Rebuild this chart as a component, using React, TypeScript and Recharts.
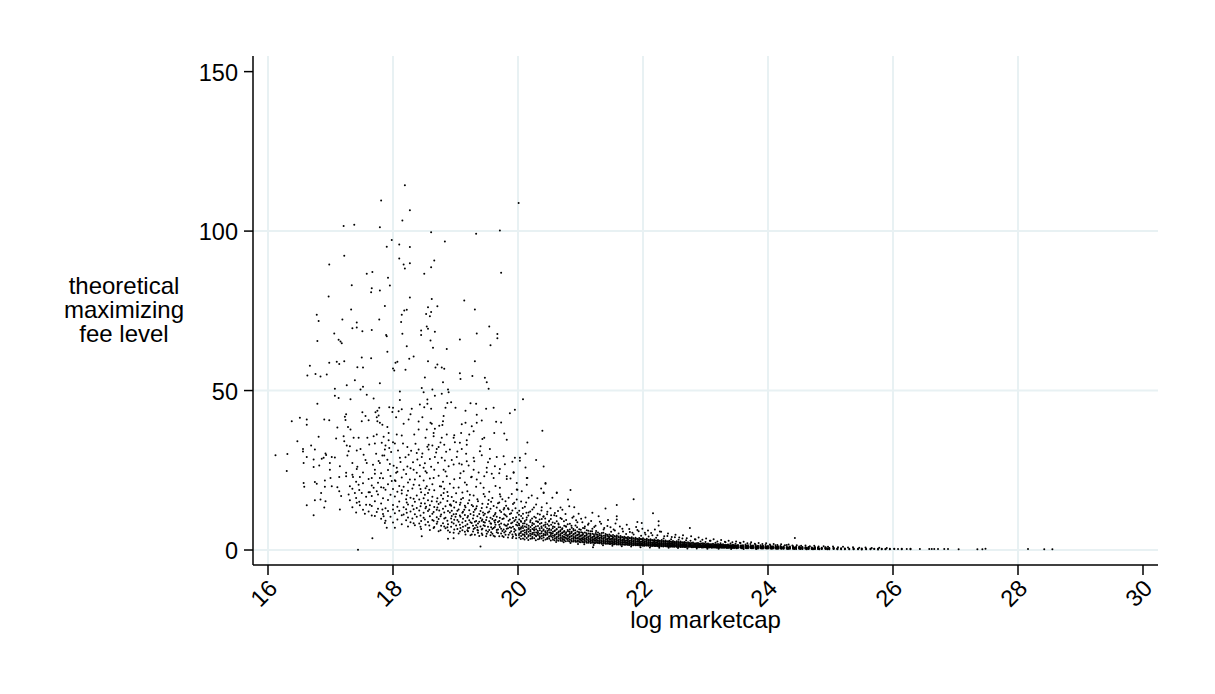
import React from 'react';
import { ScatterChart, Scatter, XAxis, YAxis, CartesianGrid, Label } from 'recharts';

const xTicks = [16, 18, 20, 22, 24, 26, 28, 30];
const yTicks = [0, 50, 100, 150];
const xGridValues = [16, 18, 20, 22, 24, 26, 28];
const yGridValues = [0, 50, 100];
const yTitleLines = ['theoretical', 'maximizing', 'fee level'];
const xTitle = 'log marketcap';

const upperPoints: number[][] = [
[18.19,114.4],[17.81,109.6],[20.01,108.8],[18.27,106.5],[18.15,103.3],[17.21,101.6],[17.38,102],[17.79,101.2],[19.71,100.2],[18.61,99.6],[19.33,99.2],[17.98,97.2],[18.83,96.7],[18.1,95.8],[17.9,95.1],[18.27,95],[17.22,92.3],[18.1,91.4],[16.98,89.5],[18.17,89.5],[18.27,89.9],[18.66,90.8],[18.19,88.3],[18.61,88.7],[18.5,86.6],[19.73,86.9],[17.58,86.6],[17.67,87.2],[17.92,85.4],[17.95,82.9],[17.34,83],[17.66,82.1],[17.65,80.8],[17.79,81.4],[16.97,79.5],[18.27,79.2],[18.62,78.7],[19.14,78.2],[17.87,76.5],[18.56,76.1],[18.71,76.4],[17.33,75.4],[18.18,75.1],[18.22,75.3],[19.31,75.4],[18.61,74.6],[18.53,74],[18.14,73.8],[18.59,73.3],[16.78,73.8],[16.81,71.8],[17.19,72.3],[17.78,72.3],[18.13,71.5],[17.42,71.3],[17.35,69.5],[17.42,69.8],[17.51,68.6],[17.66,69],[17.06,67.9],[17.89,67.4],[17.9,67],[18.15,67.8],[18.45,67.4],[18.45,68.8],[18.54,70.1],[18.56,69.4],[18.67,68.4],[19.54,70.1],[19.34,67.9],[19.67,67.7],[19.67,66.4],[19.07,66],[19.56,64.2],[18.6,65.7],[16.79,65.5],[17.13,65.9],[17.16,65.4],[17.18,64.8],[18.22,63.9],[18.64,63.4],[18.86,63],[17.91,62.2],[17.5,60.4],[17.65,60.1],[18.33,60.7],[18.26,60],[18.07,59],[18.04,58.7],[17.22,59.2],[17.1,59],[16.98,58.7],[17.14,58.3],[16.67,57.8],[18.56,59.2],[18.71,58.2],[19.31,59.2],[17.43,57.3],[17.52,57.2],[18,56.9],[18.68,57.2],[18.78,57.2],[18.82,56.8],
];

const middlePoints: number[][] = [
[16.63,54.7],[16.76,55.2],[16.84,54.4],[16.94,55],[18.02,56.3],[18.2,56.5],[19.07,55.4],[19.08,53.6],[19.27,54.6],[19.47,54],[19.5,52.6],[19.53,50.6],[18.51,54.1],[18.8,52.6],[17.39,53.2],[17.26,51.7],[17.52,51.2],[17.48,50.3],[17.07,50.6],[17.79,52.3],[18.46,50.8],[18.63,50.3],[18.88,50.3],[18.89,49.5],[18.49,49.5],[18.78,49],[18.11,49.7],[18.67,48.4],[18.55,47.2],[17.07,48.4],[17.13,47.7],[17.32,47.3],[17.58,48.7],[17.69,47.5],[18.11,47],[20.08,47.3],[16.79,45.9],[18.55,45.9],[18.87,46.1],[18.93,46.3],[19.24,46],[19.33,45.9],[18.43,45.6],[18.5,44.8],[18.61,44.3],[18.84,44.6],[19,44.6],[19.49,44.3],[19.61,44.6],[19.95,44],[19.87,42.9],[19.16,43.7],[19.34,42.4],[17.78,44.6],[17.75,43.7],[17.94,44.8],[18,44.6],[18.09,43.5],[18.14,44.1],[18.3,44.3],[18.28,42.6],[17.99,43.3],[17.51,43.2],[17.25,42.6],[17.23,41.8],[17.24,40.8],[17.56,42],[17.74,41.6],[17.77,42.2],[17.72,43.2],[17.5,40.4],[17.61,40.7],[16.51,41.5],[16.62,40.9],[16.38,40.4],[16.9,40.9],[16.98,40.7],[16.62,39.3],[18.05,41.6],[18.81,42],[18.41,40.3],[18.47,41.6],[18.25,40.9],[18.17,39.6],[18.8,40.4],[18.6,39.9],[18.62,39.6],[18.74,39],[18.79,39.2],[19.1,39.4],[19.16,39.9],[19.42,40.6],[19.34,39.9],[19.65,40.2],[19.73,40],[17.75,40.4],[17.79,39.9],[17.83,39.3],[17.91,38.6],[17.11,38.4],[17.28,38.6],[17.32,37.8],[18.41,37.8],[18.54,37.8],[18.67,38],[18.65,36.7],[18.86,36.2],[18.98,36],[19.09,36.7],[19.26,38.8],[19.29,37.2],[19.62,36.7],[19.78,36.5],[20.39,37.4],[19.82,34.6],[19.46,35.2],[19.43,34.8],[19.22,36.2],[16.81,35.5],[17.09,35],[17.21,35.7],[17.37,35.2],[17.45,35.2],[17.59,35.2],[17.69,35.7],[17.74,36.2],[17.85,35.5],[17.93,36.7],[18.06,36.2],[18.14,35.9],[18.34,36.2],[18.52,35.2],[18.65,35.7],[18.78,35.2],[18.97,35.2],[19.18,34.4],[16.47,34.1],[17.22,34.1],[17.26,32.8],[17.31,32.5],[17.71,33.4],[17.82,33.6],[17.93,34.4],[18,33.8],[18.03,33.4],[18.23,32.3],[18.57,33],[18.63,32.8],[18.73,32.3],[18.82,33],[18.99,33.8],[19.07,33.6],[19.18,33],[19.4,32.5],[20.15,33.7],[16.69,32.8],[16.56,31.7],[16.56,30.9],[16.75,31.5],[17.29,31],[17.42,31.2],[17.87,31.5],[17.94,32],[18.41,31.5],[18.57,31.5],[18.7,31.7],[18.91,31.5],[19.1,31.7],[19.39,31],[19.55,31.7],[16.12,29.7],[16.31,30.1],[16.92,30.3],[16.93,29.8],[16.62,29.2],[16.73,28.4],[16.86,28.6],[16.89,28.9],[17.02,29.2],[17.07,29],[17.27,29.6],[17.53,29.9],[17.83,29.6],[17.86,29.6],[18.11,28.9],[18.25,29.9],[18.38,30.4],[18.46,29.2],[18.67,29.2],[18.78,28.9],[19.02,29.2],[19.18,27.8],[19.29,28.9],[19.55,28.6],[19.77,29.4],[19.95,28.9],[20.03,28.9],[20.12,30.2],[20.29,28.2],[20.03,28],
[16.3,24.8],[16.57,27.3],[16.73,26],[16.82,26.5],[16.99,27.3],[16.99,25.2],[17.15,26.3],[17.25,24.2],[17.35,27.3],[17.42,25.4],[17.58,27.3],[17.71,25.2],[17.79,27.3],[17.95,27],[18.06,25.8],[18.05,24.2],[18.17,25.2],[18.33,25.2],[18.49,25.8],[18.54,24.2],[18.81,25.2],[18.97,26.8],[19.1,26.8],[19.29,25.2],[19.5,25.8],[19.63,26.3],[19.71,25.4],[20.12,25.9],[20.41,26.2],[19.93,24.2],[20.15,22.6],[19.82,23.1],[20.44,20.8],[16.57,21],[16.58,19.8],[16.75,21.3],[16.78,20.8],[16.91,21.8],[17,22.6],[17.14,22.9],[17.25,23.1],[17.36,22.9],[17.47,22.9],[17.66,22.6],[17.79,22.6],[17.98,21.6],[18.04,21.6],[18.27,22.1],[18.43,23.1],[18.65,22.6],[18.86,23.1],[19.07,22.6],[19.34,22.1],[19.61,22.6],[19.98,21],[20.14,20.5],[17.02,20],[16.91,19.8],[17.11,19.7],[17.31,20],[17.45,20.5],[17.69,19.5],[17.85,19.5],[18.14,18.7],[18.33,20.5],[18.54,20],[18.75,20],[18.97,19.5],[19.18,20.5],[19.45,19.5],[19.71,19.5],[19.98,19],[20.41,17.9],[20.62,17.9],[16.85,17.9],[17.14,18.4],[17.29,17.4],[17.39,17.9],[17.5,17.9],[17.63,18.1],[17.74,18.4],[16.75,15.6],[16.84,15.8],[16.92,15.3],[16.62,14],[16.9,13.3],[16.73,10.9],[17.15,12.7],[17.17,16.9],[17.31,15.6],[17.42,14.8],[17.47,14],[17.63,14.2],[17.66,10.8],[17.55,11.4],[17.74,11.9],[17.83,12.7],[17.85,10.6],[17.87,8.5],[17.9,7],[18.03,7],[17.67,3.7],[17.44,0.1],[18.46,4.3],[18.88,3.5],[18.97,3.7],[19.4,1.1],
[20.84,18.8],[20.62,18],[20.8,15.8],[20.44,21],[20.41,18],[20.14,22.6],[19.93,24.4],[20.9,13.4],[21.19,11.7],[21.91,8.8],[21.98,8.5],[22.25,9],[22.25,7.7],[21.58,10.6],[21.58,9.6],[21.2,0.9],[21.85,15.9],[22.16,11.5],[22.75,6.9],[24.43,3.8],[21.58,14.1],[21.4,13],
];

const midScatterPoints: number[][] = [
[17.43,26.1],[17.48,31.7],[17.56,28.2],[17.62,33.1],[17.68,26.7],[17.73,30.2],[17.77,27.9],[17.88,32.8],[17.91,28.3],[17.97,30.7],[18.01,26.4],[18.08,31.2],[18.12,27.6],[18.16,33.4],[18.2,29.1],[18.23,26.2],[18.29,31.1],[18.32,27.5],[18.36,33.3],[18.39,28.4],[18.43,26.6],[18.47,30.3],[18.51,27.2],[18.55,32.4],[18.59,28.5],[18.61,26.1],[18.69,30.6],[18.72,27.4],[18.76,33.7],[18.83,28.1],[18.85,30.8],[18.89,26.3],[18.94,28.2],[19.03,30.9],[19.06,27.1],[19.13,24.7],[19.17,30.2],[19.21,26.5],[19.25,22.8],[19.3,27.8],[19.37,24.3],[19.42,29.7],[19.46,23.1],[19.52,27.5],[19.58,23.9],[19.66,29.2],[19.7,24.1],[19.79,26.9],[19.88,22.4],[19.91,27.7],
[18.53,13.6],[18.62,15.3],[18.74,12.4],[18.81,17.9],[18.92,14.3],[19,10.4],[19.09,15.9],[19.14,12.6],[19.23,17.3],[19.34,13.7],[19.44,11.8],[19.53,15.7],[19.62,9.2],[19.72,16.8],[19.81,13.9],[19.9,17.6],[19.98,15.8],[20.06,18.4],[20.13,14.9],[20.22,17.1],[20.31,16.2],[20.37,19.3],[20.46,14.7],[20.55,16.4],[20.68,13.3],
];

const bandScatterPoints: number[][] = [
[20.52,13.1],[20.58,10.9],[20.64,12.2],[20.7,9.7],[20.76,11.3],[20.82,13.7],[20.87,10.1],[20.93,9.3],[20.97,11.4],[21.03,8.7],[21.08,10.2],[21.12,7.9],[21.17,9.1],[21.24,7.6],[21.29,10.6],[21.33,8.2],[21.38,6.9],[21.44,9.4],[21.48,7.1],[21.53,6.4],[21.56,8.3],[21.63,7.4],[21.68,5.8],[21.74,7.9],[21.78,6.6],[21.83,5.4],[21.89,7.2],[21.93,5.9],[21.99,6.7],[22.04,4.9],[22.08,6.1],[22.13,5.3],[22.19,6.4],[22.23,4.6],[22.29,5.7],[22.34,4.3],[22.4,5.2],[22.46,4.1],[22.52,4.8],[22.58,3.9],[22.64,4.6],[22.7,3.7],[22.77,4.3],[22.83,3.4],[22.89,3.9],[22.95,3.2],[23.01,3.6],[23.07,2.9],[23.13,3.4],[23.19,2.7],[23.25,3.1],[23.31,2.6],[23.37,2.9],[23.43,2.4],[23.49,2.7],[23.55,2.3],[23.61,2.6],[23.67,2.1],[23.73,2.4],[23.79,2],[23.85,2.2],[23.91,1.9],[23.97,2.1],[24.03,1.7],[24.09,1.9],[24.15,1.6],[24.21,1.8],[24.27,1.5],[24.33,1.7],[24.39,1.4],[24.46,1.5],[24.53,1.3],[24.6,1.4],[24.67,1.2],[24.74,1.3],[24.81,1.1],[24.89,1.2],[24.96,1],[25.04,1.1],[25.12,.9],[25.2,1],[25.28,.8],[25.36,.9],[25.46,.7],[25.56,.8],[25.66,.6],[25.78,.7],[25.9,.6],
[20.61,2.5],[20.73,2.4],[20.84,2.2],[20.96,1.9],[21.06,1.8],[21.21,1.6],[21.36,1.5],[21.51,1.3],[21.66,1.2],[21.81,1.1],[21.96,.9],[22.11,.8],[22.26,.7],[22.41,.7],[22.56,.6],[22.71,.5],[22.86,.5],[23.03,.4],[23.21,.4],[23.41,.3],[23.61,.3],[23.81,.3],
];

const lowerColumns: [number, number[]][] = [
[17.35,[13.4,19.2,23.6]],[17.41,[11.8,16.3,21.4]],[17.46,[15.1,18.8]],[17.52,[12.6,20.9,24.3]],[17.57,[16.7,14.2]],[17.61,[18.1,22.3,12.1]],[17.66,[13.8,16.9,20.2]],[17.71,[15.3,23.9,10.7]],[17.76,[12.9,17.4,21.1]],[17.81,[9.8,14.6,19.7,24.1]],
[17.84,[11.3,16.2,22.5]],[17.88,[13.1,18.9,9.2]],[17.92,[15.7,20.6,12.2,25.1]],[17.96,[10.4,17.3,23.2]],[18,[8.6,14.1,19.1,12.7]],[18.03,[11.5,16.8,21.9]],[18.07,[9.6,13.6,24.5,18.3]],[18.1,[12.3,15.2,20.1]],[18.14,[8.1,10.9,17.7,22.7]],[18.17,[13.4,19.8,11.1]],
[18.21,[9.3,15.9,12.8,23.8]],[18.24,[7.4,10.2,14.3,18.6,21.2]],[18.28,[12.1,16.4,25.6,8.7]],[18.31,[9.9,13.9,19.3]],[18.35,[11.2,15.1,22.1,7.8]],[18.38,[10.4,17.1,13.2,24.2]],[18.42,[8.3,12.4,20.3,15.8]],[18.45,[9.1,14.7,18.1,6.6]],[18.49,[11.7,16.2,21.8,10.1]],[18.52,[7.9,13.1,19.4,24.7]],
[18.56,[8.8,12.2,15.6,17.9]],[18.59,[6.3,10.6,14,22.4]],[18.63,[9.4,11.4,16.7,20.6]],[18.66,[7.2,13.5,18.7,25.2]],[18.7,[8.2,10.3,15.2,12.6]],[18.73,[5.9,9.7,14.4,23.3]],[18.77,[11.1,17.2,7.6,19.9]],[18.8,[8.4,12.9,16.1,21.4]],[18.84,[6.8,10.1,13.7,24.6]],[18.87,[9.2,15.4,18.2,7.1]],
[18.91,[5.6,11.8,14.2,20.8]],[18.94,[8.7,10.7,16.6,12.3]],[18.98,[6.4,9.5,13.3,22.2]],[19.01,[7.7,11.3,17.8,15]],[19.05,[5.2,8.9,12.7,19.6]],[19.08,[10.4,14.8,6.9,24.1]],[19.12,[7.3,9.8,16.3,12]],[19.15,[5.7,11,13.9,21.2]],[19.19,[8.1,10.2,18.4,6.2]],[19.22,[7,12.5,15.6,9.3]],
[19.26,[4.9,8.5,14.1,23]],[19.29,[6.6,10.9,11.9,17.1]],[19.33,[7.8,9.1,13,19.8]],[19.36,[5.4,8.3,15.3,6.1]],[19.4,[10,12.2,7.4,20.9]],[19.43,[4.7,9.6,14.5,6.7]],[19.47,[8.6,11.4,16.8,7.5]],[19.5,[5.1,10.3,13.4,24.4]],[19.54,[6.3,9,12.1,18.3]],[19.57,[7.1,8.2,15.1,5.6]],
[19.61,[4.5,10.7,13.8,6.9]],[19.64,[7.9,9.4,11.6,20.1]],[19.68,[5.3,8.8,14.7,6.4]],[19.71,[7.2,10.1,12.4,17.5]],[19.75,[4.4,6,9.7,15.9]],[19.78,[8,11.2,13.2,5.5]],[19.82,[6.7,7.6,10.5,22.3]],[19.85,[4.8,9.2,12.8,16.4]],[19.89,[5.9,8.4,11.5,7]],[19.92,[4.2,7.3,10,14.4]],
[19.96,[6.2,9.5,5,13.1]],[19.99,[7.7,8.7,11.7,18.9]],
];

const lowerColumnsB: [number, number[]][] = [
[18.22,[11.7,14.9,17.2]],[18.33,[8.4,12.8,16.1]],[18.44,[7.3,10.8,13.7,19.1]],[18.51,[9.6,14.6,17.3]],[18.58,[7.7,12.7,18.9]],[18.65,[6.9,9.2,11.9]],[18.71,[8.9,13.3,16.2]],[18.76,[6.2,10.6,14.9]],[18.82,[7.4,9.9,11.8,19.2]],[18.88,[6.1,8.1,12.2,16.9]],
[18.93,[7.3,9.9,13.9]],[18.97,[5.4,8.3,11.2,15.4]],[19.03,[6.6,9.4,12.3]],[19.07,[5.8,7.9,10.8,14.2]],[19.11,[6.2,8.6,11.7,18]],[19.16,[4.9,7.6,9.1,13.4]],[19.2,[5.9,6.9,10.7,14.7]],[19.24,[4.6,8.7,11.3]],[19.28,[5.8,7.6,9.9,13.7]],[19.31,[4.8,6.9,8.9,12.6]],
[19.35,[6.3,7.1,10.6,15.9]],[19.38,[4.4,8.9,11.3]],[19.42,[5.2,6.4,9.2,13.2]],[19.45,[7.8,8.8,10.9,17.6]],[19.49,[4.3,6.1,9.4]],[19.52,[5.7,7.3,11.8,14.4]],[19.56,[4.6,8.4,10.1,12.9]],[19.59,[5.1,6.6,9.7,16.3]],[19.63,[4.2,7.2,8.6,11.1]],[19.66,[5.6,6.3,10.4,13.3]],
[19.7,[4.3,7.9,9.1,14.9]],[19.73,[5.2,6.7,8.3,11.9]],[19.77,[4.1,6.4,9.9,12.7]],[19.8,[4.8,5.9,7.7,10.9,15.3]],[19.84,[3.9,6.8,8.1,13.1]],[19.87,[5.4,7.1,9.6,11.3]],[19.91,[3.8,4.9,8.6,12.4]],[19.94,[5.7,6.6,9.1,14.8]],[19.97,[3.7,4.6,7.9,10.3]],
];

const bandColumns: [number, number[]][] = [
[20.02,[3.9,5.2,6.4,7.8,9.6,12.3]],[20.05,[4.4,5.8,7.1,8.9,10.7,15.2]],[20.08,[3.6,4.9,6,6.9,8.3,11.4]],[20.11,[4.2,5.4,7.4,9.1,13.6]],[20.14,[3.8,5,6.3,8,10.2]],[20.17,[4.6,5.7,6.8,7.6,11.8,16.4]],[20.2,[3.5,4.5,5.9,7.2,9.3]],[20.23,[4.1,5.3,6.6,8.5,12.7]],[20.26,[3.7,4.8,6.1,7,10.4]],[20.29,[4.3,5.5,6.5,9,14.3]],
[20.32,[3.4,4.7,5.6,7.5,8.8]],[20.35,[4,5.1,6.2,8.2,11.1]],[20.38,[3.6,4.4,5.8,6.9,9.7,13.4]],[20.41,[3.9,5,6.4,7.7,10.6]],[20.44,[3.3,4.6,5.4,7.2,8.6]],[20.47,[3.8,4.9,6,8.1,12]],[20.5,[3.5,4.3,5.5,6.7,9.2]],[20.53,[4.2,5.2,6.3,7.9,10.9]],[20.56,[3.2,4.5,5.7,7.4]],[20.59,[3.7,4.8,6.1,8.4,11.6]],
[20.62,[3.1,4.1,5.3,6.6,9]],[20.65,[3.6,4.7,5.8,7.1,8]],[20.68,[2.9,4,5,6.2,10]],[20.71,[3.4,4.4,5.5,6.8,12.6]],[20.74,[3,3.9,4.9,6,7.6]],[20.77,[3.5,4.6,5.6,7.3,9.4]],[20.8,[2.8,3.7,4.7,5.9]],[20.83,[3.2,4.2,5.2,6.4,8.2]],[20.86,[2.7,3.6,4.5,5.7,7]],[20.89,[3.1,4.1,5,6.1,10.5]],
[20.92,[2.6,3.5,4.4,5.4,7.7]],[20.95,[3,3.8,4.8,5.8,8.7]],[20.98,[2.5,3.4,4.3,5.3,6.5]],[21.01,[2.9,3.7,4.6,5.6,9.8]],[21.04,[2.4,3.3,4,5,6.9]],[21.07,[2.8,3.6,4.5,5.5,7.4]],[21.1,[2.3,3.2,3.9,4.9,6.2]],[21.13,[2.7,3.5,4.2,5.2,8.3]],[21.16,[2.2,3,3.8,4.7,5.9]],[21.19,[2.6,3.4,4.1,5.1,6.7]],
[21.22,[2.1,2.9,3.7,4.4,7.2]],[21.25,[2.5,3.2,4,4.8,6]],[21.28,[2.2,2.8,3.6,4.3,5.5]],[21.31,[2.4,3.1,3.9,4.6,8.9]],[21.34,[2,2.7,3.5,4.2,5.3]],[21.37,[2.3,3,3.8,4.5,6.4]],[21.4,[2,2.6,3.4,4.1,5]],[21.43,[2.2,2.9,3.6,4.4,7.5]],[21.46,[1.9,2.5,3.2,3.9,4.9]],[21.49,[2.1,2.8,3.5,4.3,5.7]],
[21.52,[1.83,2.47,3.16,3.81,4.73]],[21.55,[2.06,2.71,3.42,4.12,6.14]],[21.58,[1.74,2.33,3.04,3.69,4.58]],[21.61,[1.97,2.64,3.27,4.03,5.21]],[21.64,[1.68,2.16,2.93,3.57,4.42]],[21.67,[1.89,2.52,3.18,3.91,6.63]],[21.7,[1.62,2.24,2.81,3.46,4.17]],[21.73,[1.84,2.39,3.08,3.77,5.04]],[21.76,[1.57,2.11,2.72,3.38,4.09]],[21.79,[1.78,2.29,2.98,3.66,5.62]],
[21.82,[1.49,2.03,2.63,3.31,3.98]],[21.85,[1.71,2.18,2.87,3.53,4.84]],[21.88,[1.46,1.96,2.54,3.22,3.87]],[21.91,[1.64,2.12,2.79,3.44,6.27]],[21.94,[1.38,1.89,2.41,3.09,3.76]],[21.97,[1.59,2.07,2.68,3.34,4.51]],[22,[1.33,1.82,2.34,2.97,3.71]],[22.03,[1.52,1.98,2.61,3.24,5.39]],[22.06,[1.41,1.76,2.23,2.88,3.52]],[22.09,[1.47,1.93,2.49,3.13,4.23]],
[22.12,[1.28,1.67,2.19,2.79,3.41]],[22.15,[1.39,1.87,2.38,3.02,4.62]],[22.18,[1.24,1.71,2.09,2.71,3.28]],[22.21,[1.36,1.79,2.32,2.91,3.84]],[22.24,[1.19,1.58,2.07,2.63,3.17]],[22.27,[1.31,1.77,2.21,2.83,5.78]],[22.3,[1.16,1.61,1.99,2.52,3.11]],[22.33,[1.27,1.69,2.17,2.74,3.62]],[22.36,[1.21,1.53,1.96,2.43,2.98]],[22.39,[1.18,1.64,2.12,2.61,4.37]],
[22.42,[1.09,1.47,1.91,2.38,2.89]],[22.45,[1.17,1.58,2.03,2.53,3.39]],[22.48,[1.06,1.42,1.83,2.29,2.81]],[22.51,[1.14,1.51,1.94,2.44,4.02]],[22.54,[1.02,1.37,1.78,2.23,2.72]],[22.57,[1.11,1.46,1.87,2.33,3.21]],[22.6,[.98,1.33,1.71,2.14,2.63]],[22.63,[1.07,1.41,1.81,2.26,3.58]],[22.66,[.96,1.28,1.62,2.03,2.49]],[22.69,[1.03,1.36,1.74,2.19,3.04]],
[22.72,[.92,1.24,1.57,1.97,2.41]],[22.76,[.99,1.31,1.68,2.11,2.88]],[22.8,[.88,1.19,1.52,1.89,2.34]],[22.84,[.97,1.27,1.63,2.02,3.31]],[22.88,[.84,1.16,1.47,1.83,2.22]],[22.92,[.91,1.21,1.53,1.91,2.69]],[22.96,[.81,1.11,1.42,1.74,2.13]],[23,[.87,1.17,1.49,1.82,2.52]],[23.04,[.78,1.07,1.33,1.68,2.04]],[23.08,[.86,1.13,1.41,1.77,2.91]],
[23.12,[.76,1.02,1.29,1.61,1.94]],[23.16,[.82,1.09,1.38,1.71,2.31]],[23.2,[.72,.98,1.24,1.53,1.88]],[23.24,[.79,1.04,1.32,1.63,2.12]],[23.28,[.69,.93,1.19,1.48,1.81]],[23.32,[.77,1.01,1.27,1.54,2.43]],[23.36,[.66,.91,1.13,1.42,1.72]],[23.4,[.73,.97,1.22,1.51,2.03]],[23.44,[.63,.87,1.09,1.37,1.64]],[23.48,[.71,.94,1.18,1.43,1.93]],
[23.52,[.61,.83,1.04,1.31,1.59]],[23.56,[.67,.89,1.12,1.39,2.21]],[23.6,[.58,.81,1.01,1.23,1.52]],[23.64,[.64,.86,1.08,1.33,1.71]],[23.68,[.56,.78,.99,1.21,1.47]],[23.72,[.62,.84,1.03,1.27,1.88]],[23.76,[.53,.74,.93,1.14,1.41]],[23.8,[.59,.79,.98,1.22,1.62]],[23.84,[.51,.71,.89,1.09,1.37]],[23.88,[.54,.77,.96,1.17,1.52]],
[23.92,[.49,.68,.87,1.07,1.31]],[23.96,[.52,.72,.91,1.03,1.59]],[24,[.47,.66,.83,1.01,1.28]],[24.04,[.51,.69,.88,1.08,1.39]],[24.08,[.44,.62,.79,.97,1.21]],[24.12,[.48,.67,.82,1.03,1.47]],[24.16,[.42,.59,.77,.92,1.18]],[24.2,[.46,.63,.81,.99,1.29]],[24.25,[.39,.57,.72,.89,1.12]],[24.3,[.43,.61,.78,.96,1.58]],
[24.35,[.37,.54,.69,.87,1.07]],[24.4,[.41,.58,.73,.91,1.19]],[24.45,[.34,.51,.67,.82,1.02]],[24.5,[.39,.53,.71,.88,1.09]],[24.55,[.32,.49,.63,.79,.98]],[24.6,[.37,.52,.68,.86]],[24.65,[.31,.47,.61,.77,.96]],[24.7,[.34,.48,.64,.81]],[24.75,[.29,.43,.58,.72,.91]],[24.8,[.33,.47,.61,.78]],
[24.86,[.28,.42,.57,.71]],[24.92,[.31,.44,.53,.69,.88]],[24.98,[.24,.39,.52,.63]],[25.05,[.29,.41,.56,.68]],[25.11,[.23,.37,.49]],[25.17,[.27,.39,.58]],[25.23,[.21,.36,.47]],[25.3,[.26,.41]],[25.37,[.2,.33,.48]],[25.44,[.27,.38]],
[25.5,[.19,.31,.46]],[25.57,[.26,.39]],[25.64,[.21,.37]],[25.7,[.28,.41]],[25.76,[.19,.36]],[25.82,[.27,.38]],[25.88,[.22,.35]],[25.95,[.26,.39]],[26.02,[.28,.36]],[26.08,[.31]],[26.14,[.27,.38]],[26.22,[.3]],[26.28,[.23,.36]],
];

const bandColumnsB: [number, number[]][] = [
[20.015,[4.71,6.93,8.24,11.06]],[20.045,[3.43,5.37,6.68,9.12]],[20.075,[4.86,7.52,9.94,13.2]],[20.105,[3.27,4.68,6.17,8.37]],[20.135,[5.62,7.13,9.47,11.7]],[20.165,[3.14,4.21,6.58,10.83]],[20.195,[5.08,6.27,8.76,12.1]],[20.225,[3.62,4.93,7.77,9.88]],[20.255,[5.41,6.42,8.18,13.3]],[20.285,[3.09,4.62,7.36,10.1]],
[20.315,[5.13,6.07,8.91,11.4]],[20.345,[3.53,4.31,6.84,9.56]],[20.375,[5.24,7.41,8.47,12.4]],[20.405,[3.02,4.57,6.12,10.4]],[20.435,[4.82,5.92,7.91,9.86]],[20.465,[3.42,5.33,6.73,11.2]],[20.495,[4.14,6.26,7.58,8.93]],[20.525,[2.96,4.72,5.49,9.74]],[20.555,[3.87,5.14,6.83,8.62]],[20.585,[3.04,4.38,5.97,7.23]],
[20.615,[3.78,4.91,6.41,10.7]],[20.645,[2.88,4.27,5.41,8.31]],[20.675,[3.46,4.64,5.83,7.17]],[20.705,[2.83,3.79,5.27,6.49]],[20.735,[3.38,4.18,5.64,9.04]],[20.765,[2.74,3.93,5.11,7.48]],[20.795,[3.27,4.32,6.28,8.06]],[20.825,[2.68,3.81,4.97,5.73]],[20.855,[3.09,4.36,5.34,7.62]],[20.885,[2.63,3.72,4.81,6.57]],
[20.915,[2.92,3.94,5.17,6.23]],[20.945,[2.57,3.61,4.57,7.12]],[20.975,[2.84,3.73,4.88,5.62]],[21.005,[2.46,3.28,4.42,6.37]],[21.035,[2.77,3.57,4.74,5.41]],[21.065,[2.39,3.16,4.17,6.82]],[21.095,[2.68,3.44,4.52,5.27]],[21.125,[2.31,3.09,4.06,6.01]],[21.155,[2.58,3.33,4.38,5.13]],[21.185,[2.24,2.97,3.87,5.86]],
[21.215,[2.47,3.21,4.23,4.97]],[21.245,[2.16,2.89,3.71,5.32]],[21.275,[2.39,3.08,4.11,4.82]],[21.305,[2.09,2.78,3.62,5.08]],[21.335,[2.31,2.96,3.97,4.63]],[21.365,[2.03,2.71,3.49,5.44]],[21.395,[2.21,2.84,3.82,4.48]],[21.425,[1.93,2.63,3.37,4.76]],[21.455,[2.14,2.73,3.68,4.34]],[21.485,[1.88,2.54,3.26,4.57]],
[21.515,[2.07,2.63,3.57,4.18]],[21.545,[1.81,2.42,3.13,4.41]],[21.575,[1.98,2.58,3.41,4.07]],[21.605,[1.74,2.37,3.02,4.26]],[21.635,[1.91,2.49,3.29,3.92]],[21.665,[1.67,2.27,2.92,4.11]],[21.695,[1.83,2.41,3.16,3.79]],[21.725,[1.62,2.19,2.83,3.96]],[21.755,[1.77,2.33,3.04,3.67]],[21.785,[1.56,2.11,2.76,3.82]],
[21.815,[1.71,2.26,2.93,3.58]],[21.845,[1.51,2.04,2.68,3.69]],[21.875,[1.64,2.17,2.82,3.46]],[21.905,[1.46,1.97,2.58,3.57]],[21.935,[1.59,2.09,2.73,3.36]],[21.965,[1.41,1.92,2.51,3.43]],[21.995,[1.53,2.03,2.64,3.26]],[22.025,[1.37,1.83,2.43,3.31]],[22.055,[1.48,1.97,2.56,3.14]],[22.085,[1.32,1.78,2.36,3.21]],
[22.115,[1.43,1.91,2.47,3.05]],[22.145,[1.26,1.72,2.28,3.13]],[22.175,[1.38,1.83,2.39,2.94]],[22.205,[1.22,1.66,2.21,3.02]],[22.235,[1.33,1.76,2.29,2.87]],[22.265,[1.18,1.62,2.13,2.93]],[22.295,[1.29,1.71,2.22,2.78]],[22.325,[1.13,1.56,2.06,2.86]],[22.355,[1.24,1.66,2.14,2.69]],[22.385,[1.09,1.51,1.98,2.77]],
[22.415,[1.21,1.59,2.07,2.61]],[22.445,[1.04,1.46,1.93,2.68]],[22.475,[1.16,1.54,2.01,2.53]],[22.505,[1.01,1.41,1.86,2.59]],[22.535,[1.12,1.49,1.94,2.46]],[22.565,[.97,1.38,1.79,2.51]],[22.595,[1.08,1.44,1.88,2.37]],[22.625,[.94,1.33,1.73,2.42]],[22.655,[1.04,1.39,1.81,2.31]],[22.685,[.91,1.29,1.67,2.36]],
[22.74,[1.02,1.36,1.74,2.22]],[22.78,[.86,1.22,1.59,2.21]],[22.82,[.94,1.28,1.66,2.08]],[22.86,[.83,1.18,1.54,2.13]],[22.9,[.89,1.24,1.58,1.98]],[22.94,[.79,1.13,1.46,2.01]],[22.98,[.84,1.18,1.51,1.93]],[23.02,[.77,1.09,1.41,1.92]],[23.06,[.82,1.14,1.46,1.84]],[23.1,[.73,1.04,1.36,1.83]],
[23.14,[.78,1.08,1.37,1.74]],[23.18,[.71,1.01,1.31,1.73]],[23.22,[.74,1.03,1.33,1.67]],[23.26,[.67,.96,1.24,1.66]],[23.3,[.72,.99,1.26,1.59]],[23.34,[.64,.92,1.18,1.57]],[23.38,[.69,.94,1.21,1.53]],[23.42,[.61,.88,1.14,1.51]],[23.46,[.66,.91,1.16,1.46]],[23.5,[.59,.84,1.07,1.44]],
[23.58,[.57,.81,1.03,1.38]],[23.66,[.54,.78,1.01,1.31]],[23.74,[.52,.74,.96,1.24]],[23.82,[.49,.72,.92,1.19]],[23.9,[.46,.67,.86,1.13]],[23.98,[.44,.64,.83,1.07]],[24.06,[.41,.61,.78,1.02]],[24.14,[.39,.57,.74,.97]],[24.22,[.37,.54,.71,.92]],[24.32,[.34,.51,.66,.86]],
[24.42,[.31,.48,.62,.81]],[24.52,[.29,.44,.59,.76]],[24.62,[.27,.41,.56,.71]],[24.72,[.26,.39,.53]],[24.82,[.24,.37,.51]],[24.95,[.23,.34,.47]],
];

const tailPoints: number[][] = [
[26.43,.3],[26.58,.3],[26.62,.3],[26.66,.3],[26.72,.3],[26.82,.3],[26.88,.3],[27.05,.2],[27.35,.2],[27.43,.2],[27.48,.4],[28.16,.3],[28.42,.2],[28.55,.2],
];

const fromColumns = (cols: [number, number[]][]) => cols.flatMap(([x, ys]) => ys.map((y) => [x, y]));

const points = [
  ...upperPoints, ...middlePoints, ...midScatterPoints, ...bandScatterPoints,
  ...fromColumns(lowerColumns), ...fromColumns(lowerColumnsB),
  ...fromColumns(bandColumns), ...fromColumns(bandColumnsB),
  ...tailPoints,
].map(([x, y]) => ({ x, y }));

const FONT = '"Liberation Sans", Arial, sans-serif';
const FONT_SIZE = 23.5;
const TITLE_SIZE = 24;

const Dot = (p: any) => <circle cx={p.cx} cy={p.cy} r={1} fill="#000" />;

const XTick = (p: any) => (
  <text
    x={p.x + 5}
    y={p.y + 7}
    transform={`rotate(-45 ${p.x + 5} ${p.y + 7})`}
    textAnchor="end"
    dominantBaseline="central"
    fontFamily={FONT}
    fontSize={FONT_SIZE}
    fill="#000"
  >
    {p.payload.value}
  </text>
);

const YTitle = () => (
  <text x={124} textAnchor="middle" fontFamily={FONT} fontSize={TITLE_SIZE} fill="#000">
    {yTitleLines.map((line, i) => (
      <tspan key={line} x={124} y={294 + i * 24}>{line}</tspan>
    ))}
  </text>
);

export default function App() {
  return (
    <div style={{ position: 'absolute', left: 0, top: 0, width: 1215, height: 694, background: '#fff' }}>
      <ScatterChart width={1215} height={694} margin={{ top: 56, right: 57, bottom: 69, left: 193 }}>
        <CartesianGrid stroke="#e8f1f3" strokeWidth={2} horizontalValues={yGridValues} verticalValues={xGridValues} />
        <XAxis
          type="number"
          dataKey="x"
          domain={[15.76, 30.24]}
          ticks={xTicks}
          interval={0}
          height={60}
          tickSize={10}
          tick={<XTick />}
          axisLine={{ stroke: '#000', strokeWidth: 1.5 }}
          tickLine={{ stroke: '#000', strokeWidth: 1.5 }}
          allowDataOverflow
        >
          <Label value={xTitle} position="insideBottom" offset={-3} fontFamily={FONT} fontSize={TITLE_SIZE} fill="#000" />
        </XAxis>
        <YAxis
          type="number"
          dataKey="y"
          domain={[-4.7, 154.9]}
          ticks={yTicks}
          interval={0}
          width={60}
          tickSize={9}
          tickMargin={6}
          tick={{ fontFamily: FONT, fontSize: FONT_SIZE, fill: '#000', dy: 1 }}
          axisLine={{ stroke: '#000', strokeWidth: 1.5 }}
          tickLine={{ stroke: '#000', strokeWidth: 1.5 }}
          allowDataOverflow
        >
          <Label content={<YTitle />} />
        </YAxis>
        <Scatter data={points} shape={<Dot />} isAnimationActive={false} />
      </ScatterChart>
    </div>
  );
}
